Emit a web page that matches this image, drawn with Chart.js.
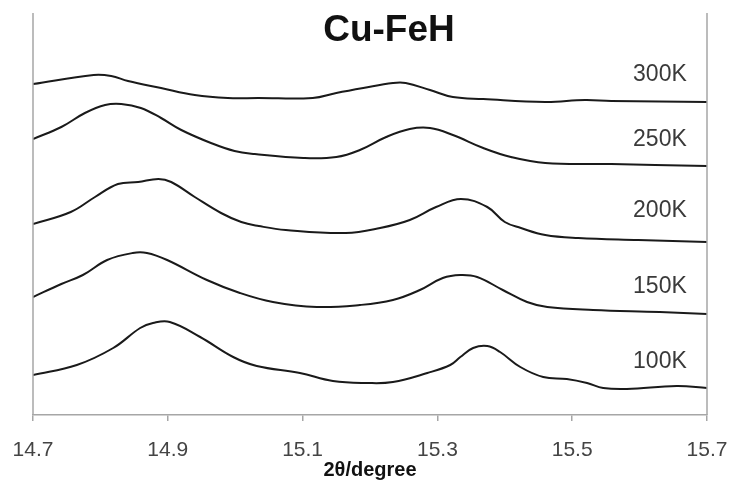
<!DOCTYPE html>
<html>
<head>
<meta charset="utf-8">
<script src="https://cdn.jsdelivr.net/npm/chart.js@4/dist/chart.umd.min.js"></script>
<style>
  html, body { margin: 0; padding: 0; background: #fff; }
  #wrap { width: 730px; height: 485px; position: relative; }
</style>
</head>
<body>
<div id="wrap"><canvas id="c"></canvas></div>
<script>
// ---- data (2θ in degrees, intensity in offset arbitrary units) ----
const chartTitle = "Cu-FeH";
const xAxisTitle = "2θ/degree";
const xTickValues = [14.7, 14.9, 15.1, 15.3, 15.5, 15.7];

const seriesNames = ["300K", "250K", "200K", "150K", "100K"];

const theta300 = [14.70, 14.79, 14.816, 14.841, 14.89, 14.94, 14.989, 15.034, 15.115, 15.15, 15.19, 15.234, 15.253, 15.289, 15.323, 15.368, 15.46, 15.519, 15.558, 15.70];
const int300   = [3.31, 3.40, 3.39, 3.34, 3.27, 3.20, 3.17, 3.17, 3.17, 3.22, 3.27, 3.32, 3.32, 3.25, 3.18, 3.16, 3.13, 3.15, 3.14, 3.13];

const theta250 = [14.70, 14.742, 14.777, 14.807, 14.831, 14.860, 14.890, 14.920, 14.964, 14.999, 15.029, 15.101, 15.150, 15.185, 15.224, 15.259, 15.289, 15.323, 15.368, 15.409, 15.460, 15.558, 15.623, 15.70];
const int250   = [2.76, 2.88, 3.02, 3.10, 3.11, 3.07, 2.97, 2.85, 2.72, 2.64, 2.61, 2.57, 2.58, 2.65, 2.78, 2.86, 2.87, 2.80, 2.67, 2.58, 2.52, 2.51, 2.50, 2.49];

const theta200 = [14.70, 14.756, 14.792, 14.826, 14.856, 14.886, 14.905, 14.940, 14.979, 15.009, 15.035, 15.075, 15.164, 15.215, 15.259, 15.298, 15.335, 15.374, 15.400, 15.424, 15.460, 15.509, 15.598, 15.70];
const int200   = [1.91, 2.03, 2.18, 2.31, 2.33, 2.36, 2.33, 2.18, 2.02, 1.93, 1.89, 1.85, 1.82, 1.87, 1.95, 2.08, 2.16, 2.08, 1.93, 1.87, 1.80, 1.77, 1.75, 1.73];

const theta150 = [14.70, 14.742, 14.774, 14.810, 14.848, 14.869, 14.899, 14.958, 15.007, 15.056, 15.121, 15.185, 15.234, 15.274, 15.308, 15.334, 15.359, 15.397, 15.433, 15.463, 15.531, 15.630, 15.70];
const int150   = [1.18, 1.31, 1.40, 1.55, 1.62, 1.62, 1.55, 1.35, 1.22, 1.13, 1.08, 1.10, 1.15, 1.25, 1.37, 1.40, 1.38, 1.25, 1.13, 1.08, 1.05, 1.03, 1.01];

const theta100 = [14.70, 14.765, 14.819, 14.859, 14.878, 14.903, 14.948, 14.997, 15.032, 15.096, 15.145, 15.196, 15.234, 15.285, 15.319, 15.334, 15.353, 15.374, 15.393, 15.423, 15.457, 15.492, 15.522, 15.546, 15.581, 15.655, 15.70];
const int100   = [0.40, 0.50, 0.67, 0.87, 0.92, 0.93, 0.78, 0.58, 0.49, 0.42, 0.34, 0.32, 0.33, 0.42, 0.50, 0.58, 0.67, 0.69, 0.63, 0.48, 0.38, 0.36, 0.32, 0.27, 0.26, 0.29, 0.27];

// curve labels placed in data coordinates
const labelTheta = [15.67, 15.67, 15.67, 15.67, 15.67];
const labelInt   = [3.40, 2.75, 2.045, 1.285, 0.535];

const thetas = [theta300, theta250, theta200, theta150, theta100];
const ints   = [int300, int250, int200, int150, int100];

const datasets = seriesNames.map((name, i) => ({
  label: name,
  data: thetas[i].map((t, k) => ({ x: t, y: ints[i][k] })),
  borderColor: '#1a1a1a',
  borderWidth: 2,
  pointRadius: 0,
  tension: 0.4,
  fill: false
}));

const framePlugin = {
  id: 'frame',
  afterDraw(chart) {
    const { ctx, chartArea: a, scales } = chart;
    ctx.save();
    ctx.strokeStyle = '#a6a6a6';
    ctx.lineWidth = 1.5;
    ctx.beginPath();
    ctx.moveTo(a.left, a.top); ctx.lineTo(a.left, a.bottom);
    ctx.moveTo(a.right, a.top); ctx.lineTo(a.right, a.bottom);
    ctx.stroke();
    // curve labels
    ctx.fillStyle = '#3a3a3a';
    ctx.font = '23px "Liberation Sans", Arial, sans-serif';
    ctx.textAlign = 'right';
    ctx.textBaseline = 'middle';
    seriesNames.forEach((n, i) => {
      ctx.fillText(n, scales.x.getPixelForValue(labelTheta[i]), scales.y.getPixelForValue(labelInt[i]));
    });
    // title
    ctx.fillStyle = '#111';
    ctx.font = 'bold 37px "Liberation Sans", Arial, sans-serif';
    ctx.textAlign = 'center';
    ctx.fillText(chartTitle, 389, 31);
    ctx.restore();
  }
};

new Chart(document.getElementById('c'), {
  type: 'line',
  data: { datasets },
  options: {
    responsive: true,
    maintainAspectRatio: false,
    animation: false,
    layout: { padding: { left: 33, right: 23, top: 13, bottom: 5 } },
    plugins: { legend: { display: false }, tooltip: { enabled: false }, title: { display: false } },
    scales: {
      x: {
        type: 'linear',
        min: 14.7, max: 15.7,
        afterBuildTicks: (s) => { s.ticks = xTickValues.map(v => ({ value: v })); },
        afterFit: (s) => { s.paddingLeft = 0; s.paddingRight = 0; s.height = 65; },
        ticks: {
          callback: (v) => Number(v).toFixed(1),
          color: '#444',
          font: { family: '"Liberation Sans", Arial, sans-serif', size: 21, lineHeight: 1 },
          padding: 19,
          maxRotation: 0
        },
        grid: { display: true, drawOnChartArea: false, drawTicks: true, tickLength: 6, color: '#a6a6a6', lineWidth: 1.5 },
        border: { display: true, color: '#a6a6a6', width: 1.5 },
        title: {
          display: true, text: xAxisTitle, color: '#111',
          font: { family: '"Liberation Sans", Arial, sans-serif', size: 20, weight: 'bold', lineHeight: 1 },
          padding: { top: 2, bottom: 0 }
        }
      },
      y: { display: false, min: 0, max: 4.02 }
    }
  },
  plugins: [framePlugin]
});
</script>
</body>
</html>
